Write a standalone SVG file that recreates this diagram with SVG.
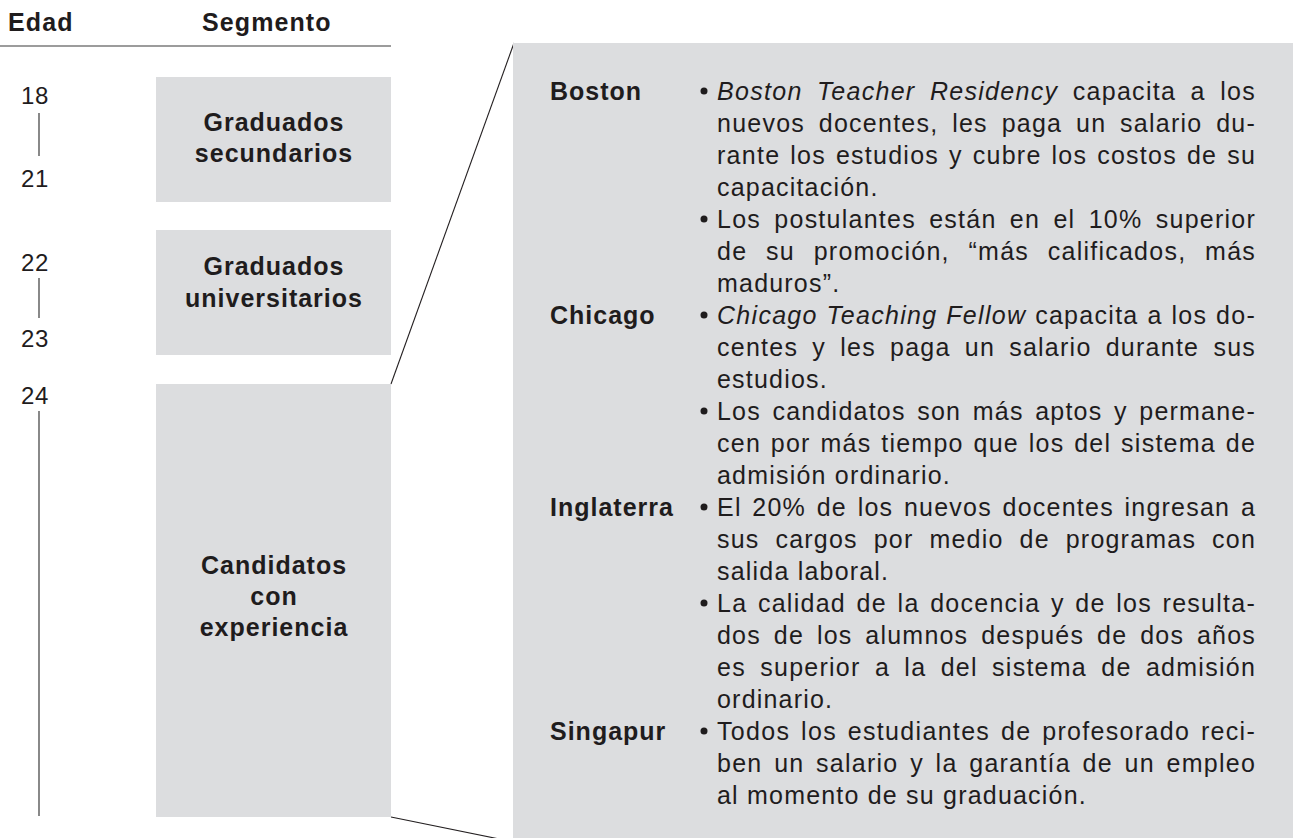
<svg xmlns="http://www.w3.org/2000/svg" width="1293" height="838" viewBox="0 0 1293 838">
<style>
text{font-family:"Liberation Sans",Arial,Helvetica,sans-serif;fill:#1f1c1d;font-size:25px}
.hd{font-weight:bold;letter-spacing:1.1px}
.age{font-size:24px;letter-spacing:0.6px}
.seg{font-weight:bold;letter-spacing:1px;text-anchor:middle}
.ctry{font-weight:bold;letter-spacing:1px}
.bd{letter-spacing:1.2px}
.it{font-style:italic}
.box{fill:#dcdddf}
.tick{stroke:#3a3a3a;stroke-width:1.2}
.conn{stroke:#231f20;stroke-width:1.1;fill:none}
.bul{fill:#1f1c1d}
</style>
<rect width="1293" height="838" fill="#ffffff"/>

<g id="header">
<text class="hd" x="8" y="31">Edad</text>
<text class="hd" x="202" y="31">Segmento</text>
<line x1="0" y1="46" x2="391" y2="46" class="tick"/>
</g>

<g id="age-scale">
<text class="age" x="21" y="104">18</text>
<line x1="39" y1="113" x2="39" y2="156" class="tick"/>
<text class="age" x="21" y="187">21</text>
<text class="age" x="21" y="271">22</text>
<line x1="39" y1="278" x2="39" y2="318" class="tick"/>
<text class="age" x="21" y="347">23</text>
<text class="age" x="21" y="404">24</text>
<line x1="39" y1="411" x2="39" y2="816" class="tick"/>
</g>

<g id="seg-secundarios">
<rect class="box" x="156" y="77" width="235" height="125"/>
<text class="seg" x="274" y="131">Graduados</text>
<text class="seg" x="274" y="162">secundarios</text>
</g>

<g id="seg-universitarios">
<rect class="box" x="156" y="230" width="235" height="125"/>
<text class="seg" x="274" y="275">Graduados</text>
<text class="seg" x="274" y="307">universitarios</text>
</g>

<g id="seg-experiencia">
<rect class="box" x="156" y="384" width="235" height="433"/>
<text class="seg" x="274" y="574">Candidatos</text>
<text class="seg" x="274" y="605">con</text>
<text class="seg" x="274" y="636">experiencia</text>
</g>

<g id="connectors">
<line class="conn" x1="391" y1="384" x2="514" y2="43"/>
<line class="conn" x1="391" y1="817" x2="514" y2="842"/>
</g>

<g id="detail-panel">
<rect class="box" x="513" y="43" width="780" height="795"/>
<text class="ctry" x="550" y="100">Boston</text>
<text class="ctry" x="550" y="324">Chicago</text>
<text class="ctry" x="550" y="516">Inglaterra</text>
<text class="ctry" x="550" y="740">Singapur</text>

<circle class="bul" cx="704" cy="91" r="3.5"/>
<circle class="bul" cx="704" cy="219" r="3.5"/>
<circle class="bul" cx="704" cy="315" r="3.5"/>
<circle class="bul" cx="704" cy="411" r="3.5"/>
<circle class="bul" cx="704" cy="507" r="3.5"/>
<circle class="bul" cx="704" cy="603" r="3.5"/>
<circle class="bul" cx="704" cy="731" r="3.5"/>

<text class="bd" x="717" y="100" textLength="539" lengthAdjust="spacing" style="word-spacing:6.2px"><tspan class="it">Boston Teacher Residency</tspan> capacita a los</text>
<text class="bd" x="717" y="132" textLength="539" lengthAdjust="spacing" style="word-spacing:5.6px">nuevos docentes, les paga un salario du-</text>
<text class="bd" x="717" y="164" textLength="539" lengthAdjust="spacing" style="word-spacing:1.7px">rante los estudios y cubre los costos de su</text>
<text class="bd" x="717" y="196">capacitación.</text>
<text class="bd" x="717" y="228" textLength="539" lengthAdjust="spacing" style="word-spacing:5.1px">Los postulantes están en el 10% superior</text>
<text class="bd" x="717" y="260" textLength="539" lengthAdjust="spacing" style="word-spacing:10.6px">de su promoción, “más calificados, más</text>
<text class="bd" x="717" y="292">maduros”.</text>

<text class="bd" x="717" y="324" textLength="539" lengthAdjust="spacing" style="word-spacing:0.6px"><tspan class="it">Chicago Teaching Fellow</tspan> capacita a los do-</text>
<text class="bd" x="717" y="356" textLength="539" lengthAdjust="spacing" style="word-spacing:5.9px">centes y les paga un salario durante sus</text>
<text class="bd" x="717" y="388">estudios.</text>
<text class="bd" x="717" y="420" textLength="539" lengthAdjust="spacing" style="word-spacing:3.4px">Los candidatos son más aptos y permane-</text>
<text class="bd" x="717" y="452" textLength="539" lengthAdjust="spacing" style="word-spacing:1.6px">cen por más tiempo que los del sistema de</text>
<text class="bd" x="717" y="484">admisión ordinario.</text>

<text class="bd" x="717" y="516" textLength="539" lengthAdjust="spacing" style="word-spacing:2.5px">El 20% de los nuevos docentes ingresan a</text>
<text class="bd" x="717" y="548" textLength="539" lengthAdjust="spacing" style="word-spacing:7.8px">sus cargos por medio de programas con</text>
<text class="bd" x="717" y="580">salida laboral.</text>
<text class="bd" x="717" y="612" textLength="539" lengthAdjust="spacing" style="word-spacing:2.4px">La calidad de la docencia y de los resulta-</text>
<text class="bd" x="717" y="644" textLength="539" lengthAdjust="spacing" style="word-spacing:4.7px">dos de los alumnos después de dos años</text>
<text class="bd" x="717" y="676" textLength="539" lengthAdjust="spacing" style="word-spacing:6.1px">es superior a la del sistema de admisión</text>
<text class="bd" x="717" y="708">ordinario.</text>

<text class="bd" x="717" y="740" textLength="539" lengthAdjust="spacing" style="word-spacing:2.5px">Todos los estudiantes de profesorado reci-</text>
<text class="bd" x="717" y="772" textLength="539" lengthAdjust="spacing" style="word-spacing:3.5px">ben un salario y la garantía de un empleo</text>
<text class="bd" x="717" y="804">al momento de su graduación.</text>
</g>
</svg>
